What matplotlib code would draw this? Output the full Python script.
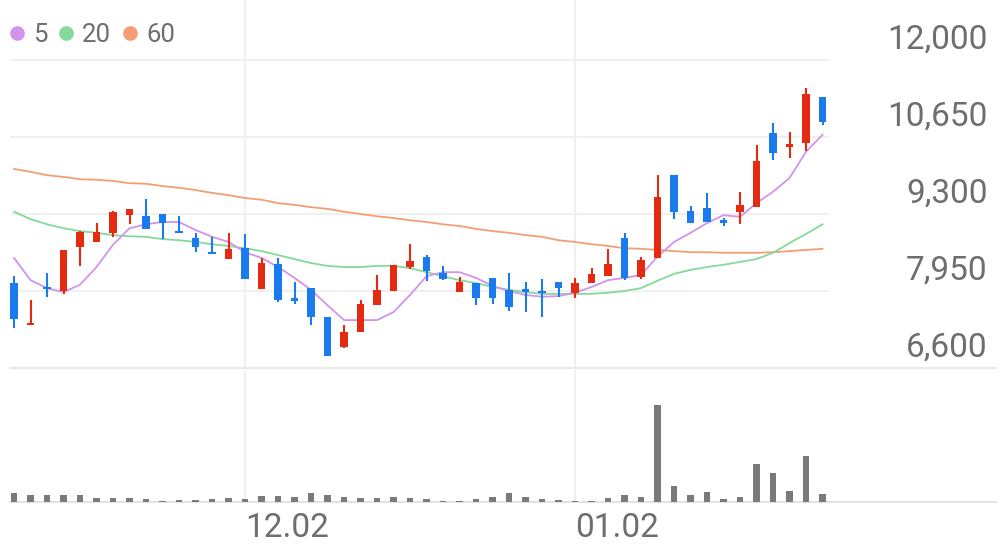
import matplotlib
matplotlib.use("Agg")
import matplotlib.pyplot as plt
from matplotlib.lines import Line2D
from matplotlib.transforms import ScaledTranslation
import numpy as np

# ---------------- data ----------------
opens = [8090, 7360, 8020, 7950, 8720, 8810, 8970, 9280, 9260, 9300,
         9000, 8880, 8630, 8510, 8700, 7990, 8420, 7830, 8000, 7490,
         6970, 7230, 7700, 7950, 8370, 8550, 8270, 7930, 8090, 8180,
         7970, 7990, 7950, 8110, 7920, 8090, 8210, 8880, 8200, 8530,
         9980, 9350, 9410, 9190, 9340, 9420, 10720, 10470, 10550, 11350]
highs = [8210, 7790, 8270, 8670, 9000, 9140, 9350, 9390, 9560, 9300,
         9260, 8970, 8900, 8970, 8950, 8530, 8530, 8110, 8000, 7490,
         7350, 7790, 8230, 8410, 8770, 8580, 8390, 8200, 8090, 8180,
         8270, 8110, 8160, 8110, 8180, 8350, 8690, 8970, 8550, 9980,
         9980, 9440, 9670, 9230, 9690, 10510, 10900, 10740, 11510, 11350]
lows = [7300, 7350, 7850, 7900, 8390, 8810, 8900, 9120, 9040, 8860,
        8970, 8630, 8600, 8510, 8160, 7990, 7760, 7720, 7350, 6810,
        6950, 7230, 7700, 7950, 8340, 8130, 8140, 7930, 7700, 7720,
        7600, 7580, 7490, 7850, 7830, 8090, 8210, 8140, 8160, 8530,
        9210, 9140, 9160, 9090, 9120, 9420, 10250, 10280, 10400, 10860]
closes = [7460, 7380, 7990, 8670, 8980, 8980, 9340, 9390, 9040, 9140,
          8970, 8720, 8600, 8690, 8160, 8440, 7790, 7770, 7490, 6810,
          7230, 7720, 7970, 8410, 8480, 8300, 8160, 8110, 7830, 7830,
          7670, 7930, 7920, 8000, 8090, 8250, 8420, 8180, 8490, 9600,
          9340, 9140, 9160, 9140, 9460, 10230, 10370, 10530, 11400, 10910]
ma5 = [8530, 8140, 8000, 7930, 8060, 8370, 8760, 9050, 9120, 9160,
       9160, 9020, 8900, 8810, 8630, 8530, 8370, 8180, 7970, 7700,
       7440, 7440, 7440, 7580, 7880, 8210, 8280, 8280, 8180, 8040,
       7950, 7880, 7850, 7860, 7920, 8020, 8140, 8180, 8230, 8550,
       8810, 8970, 9140, 9280, 9250, 9490, 9690, 9930, 10390, 10690]
ma20 = [9340, 9210, 9120, 9050, 9000, 8970, 8930, 8910, 8900, 8860,
        8840, 8810, 8770, 8740, 8700, 8650, 8580, 8510, 8440, 8390,
        8370, 8370, 8390, 8390, 8350, 8280, 8210, 8140, 8090, 8020,
        7970, 7930, 7900, 7900, 7900, 7900, 7920, 7950, 8000, 8130,
        8250, 8320, 8370, 8410, 8460, 8510, 8620, 8790, 8950, 9120]
ma60 = [10090, 10040, 9980, 9950, 9910, 9900, 9880, 9840, 9830, 9790,
        9760, 9720, 9670, 9630, 9580, 9550, 9490, 9460, 9420, 9390,
        9340, 9300, 9260, 9230, 9190, 9160, 9120, 9090, 9040, 9000,
        8970, 8930, 8900, 8840, 8810, 8770, 8740, 8700, 8690, 8670,
        8650, 8630, 8630, 8620, 8620, 8620, 8630, 8650, 8670, 8690]
volumes = [180, 140, 140, 140, 140, 80, 80, 80, 60, 30,
           40, 40, 60, 90, 60, 120, 120, 100, 180, 140,
           110, 80, 80, 110, 90, 60, 30, 30, 60, 100,
           180, 100, 54, 34, 14, 26, 80, 134, 100, 1940,
           314, 134, 206, 66, 100, 754, 580, 226, 914, 154]
price_ticks = [6600, 7950, 9300, 10650, 12000]
date_tick_pos = [14, 34]
date_tick_labels = ["12.02", "01.02"]
ma_labels = ["5", "20", "60"]

# ---------------- style ----------------
plt.rcParams["font.family"] = ["Roboto", "DejaVu Sans"]
RED = "#e42a10"
BLUE = "#1a7bef"
C_MA5, C_MA20, C_MA60 = "#d293ec", "#85d99a", "#f59d74"
TXT = "#6e6e6e"
GRID = "#f0f0f0"

W, H = 1006, 560
fig = plt.figure(figsize=(W / 100, H / 100), dpi=100)


def rect(l, t, r, b):
    return [l / W, 1 - b / H, (r - l) / W, (b - t) / H]


axp = fig.add_axes(rect(10, 0, 996, 368))
axv = fig.add_axes(rect(10, 370, 996, 502), sharex=axp)

step = 16.5  # px per candle
x = np.arange(len(closes))
axp.set_xlim(-(14 - 10) / step, (996 - 14) / step)
axp.set_ylim(6600, 12000 + 60 * 1350 / 77)

o = np.array(opens, float)
c = np.array(closes, float)
hi = np.array(highs, float)
lo = np.array(lows, float)
cols = np.where(c >= o, RED, BLUE)

# grid
for t in price_ticks[1:]:
    axp.axhline(t, xmin=0, xmax=(828 - 10) / (996 - 10), color=GRID, lw=1.5, zorder=0)
for p in date_tick_pos:
    axp.axvline(p, color=GRID, lw=1.5, zorder=0)
    axv.axvline(p, color=GRID, lw=1.5, zorder=0)

# moving averages
axp.plot(x, ma60, color=C_MA60, lw=1.3, zorder=2)
axp.plot(x, ma20, color=C_MA20, lw=1.3, zorder=2)
axp.plot(x, ma5, color=C_MA5, lw=1.3, zorder=2)

# candles
axp.vlines(x, lo, hi, colors=cols, lw=1.5, zorder=3)
body_bottom = np.minimum(o, c)
body_h = np.maximum(np.abs(c - o), 25)
axp.bar(x, body_h, bottom=body_bottom, width=0.48, color=cols, zorder=4)

# volume
axv.bar(x, volumes, width=0.42, color="#7a7a7a", zorder=3)
axv.set_ylim(0, max(volumes) * 132 / 97)

# axes styling
for ax in (axp, axv):
    for s in ("top", "left", "right"):
        ax.spines[s].set_visible(False)
    ax.set_facecolor("none")
axp.spines["bottom"].set_color("#e9e9e9")
axp.spines["bottom"].set_linewidth(1.5)
axv.spines["bottom"].set_color("#e3e3e3")
axv.spines["bottom"].set_linewidth(1.5)

axp.yaxis.tick_right()
axp.set_yticks(price_ticks, [f"{t:,}" for t in price_ticks])
axp.tick_params(axis="y", length=0, pad=-6, labelsize=24, labelcolor=TXT)
for lbl in axp.get_yticklabels():
    lbl.set_horizontalalignment("right")
    lbl.set_transform(lbl.get_transform() + ScaledTranslation(0, 24 / 100, fig.dpi_scale_trans))
axp.tick_params(axis="x", length=0, labelbottom=False)

axv.set_yticks([])
axv.set_xticks(date_tick_pos, date_tick_labels)
axv.tick_params(axis="x", length=0, pad=7, labelsize=24, labelcolor=TXT)
for lbl in axv.get_xticklabels():
    lbl.set_horizontalalignment("left")

# legend
handles = [Line2D([], [], marker="o", ls="none", color=col, markersize=9.5)
           for col in (C_MA5, C_MA20, C_MA60)]
leg = axp.legend(handles, ma_labels, loc="center left",
                 bbox_to_anchor=(10 / W, 1 - 35 / H), bbox_transform=fig.transFigure,
                 ncol=3, frameon=False, fontsize=18.5, handlelength=0.55,
                 handletextpad=0.35, columnspacing=0.45, borderpad=0, borderaxespad=0,
                 labelcolor=TXT)

fig.savefig("out.png", dpi=100)
